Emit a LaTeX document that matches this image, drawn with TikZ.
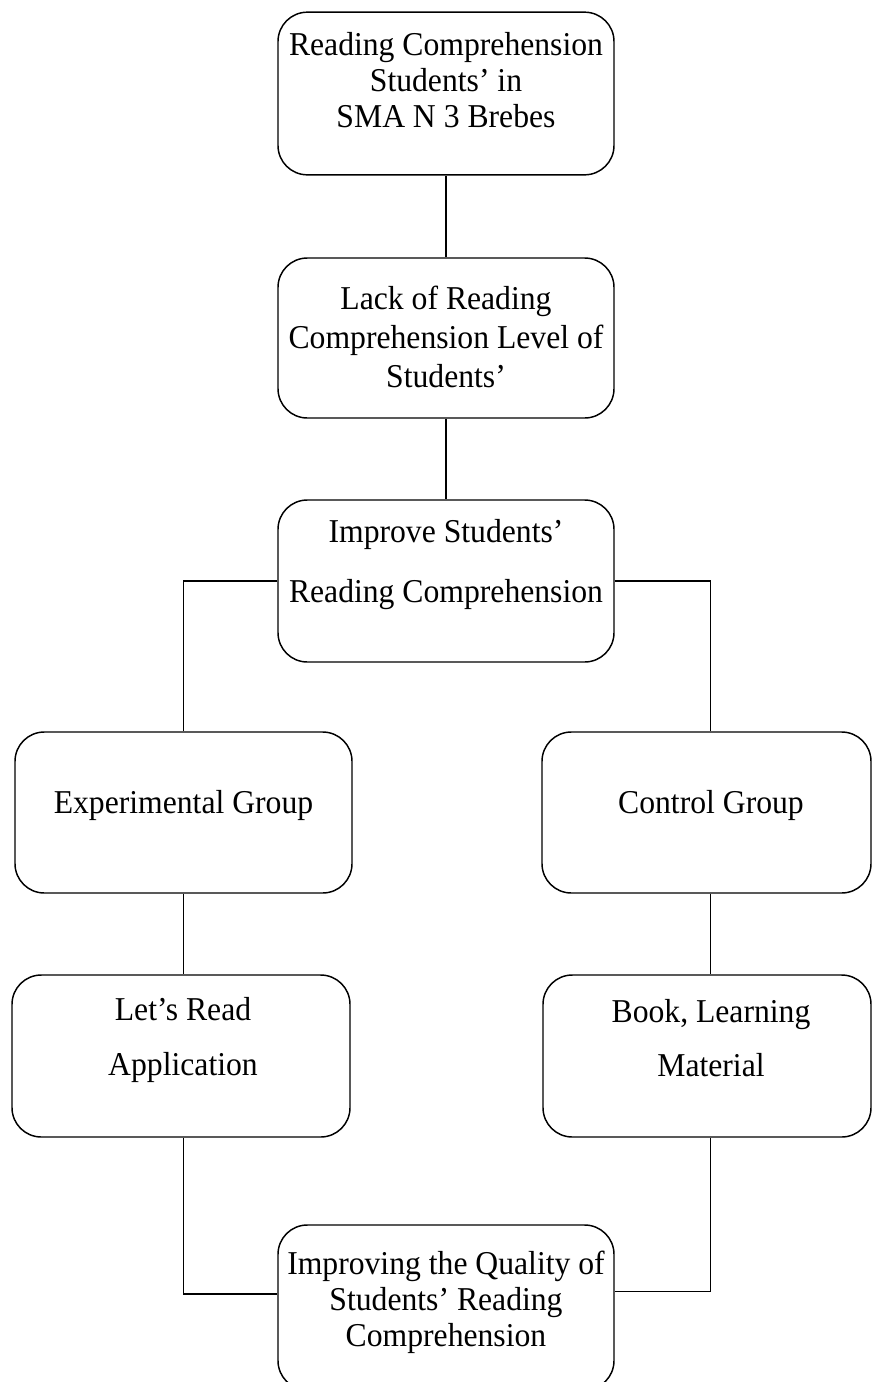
\documentclass[tikz,border=0pt]{standalone}
\usepackage{fontspec}
\setmainfont{Liberation Serif}[FakeStretch=0.95]
\usetikzlibrary{positioning}

\tikzset{
  box/.style={draw, rounded corners=22pt, line width=1.1pt},
  lbl/.style={align=center, inner sep=0pt, font=\fontsize{25}{27}\selectfont},
  link/.style={line width=1.1pt}
}

\begin{document}
\begin{tikzpicture}[x=0.75pt,y=-0.75pt]
    \useasboundingbox (0,0) rectangle (873,1382);
    \node[box, minimum width=252pt, minimum height=122pt] (read) at (446,93.5) {};
    \node[box, minimum width=252pt, minimum height=120pt] (lack) at (446,338) {};
    \node[box, minimum width=252pt, minimum height=121.5pt] (improve) at (446,581) {};
    \node[box, minimum width=252.75pt, minimum height=120.75pt] (exp) at (183.5,812.5) {};
    \node[box, minimum width=246.75pt, minimum height=120.75pt] (ctrl) at (706.5,812.5) {};
    \node[box, minimum width=253.5pt, minimum height=121.5pt] (app) at (181,1056) {};
    \node[box, minimum width=246pt, minimum height=121.5pt] (book) at (707,1056) {};
    \node[box, minimum width=252pt, minimum height=123.75pt] (quality) at (446,1307.5) {};

    \node[lbl] (readtxt) at (446,80) {Reading Comprehension\\Students' in\\SMA N 3 Brebes};
    \node[lbl] (lacktxt) at (446,337) {Lack of Reading\\[2pt]Comprehension Level of\\[2pt]Students'};
    \node[lbl] (improvetxt) at (446,565) {Improve Students'\\[18pt]Reading Comprehension};
    \node[lbl] (exptxt) at (183.5,805) {Experimental Group};
    \node[lbl] (ctrltxt) at (711,805) {Control Group};
    \node[lbl] (apptxt) at (183,1040) {Let's Read\\[14pt]Application};
    \node[lbl] (booktxt) at (711,1038) {Book, Learning\\[14pt]Material};
    \node[lbl] (qualitytxt) at (446,1302) {Improving the Quality of\\Students' Reading\\Comprehension};

    \draw[link] (read) -- (lack);
    \draw[link] (lack) -- (improve);
    \draw[link] (improve.west) -| (exp.north);
    \draw[link] (improve.east) -| ([xshift=3pt]ctrl.north);
    \draw[link] (exp.south) -- (exp.south |- app.north);
    \draw[link] ([xshift=3pt]ctrl.south) -- ([xshift=3pt]ctrl.south |- book.north);
    \draw[link] (exp.south |- app.south) |- ([yshift=10pt]quality.west);
    \draw[link] ([xshift=3pt]ctrl.south |- book.south) |- ([yshift=12pt]quality.east);
\end{tikzpicture}
\end{document}
